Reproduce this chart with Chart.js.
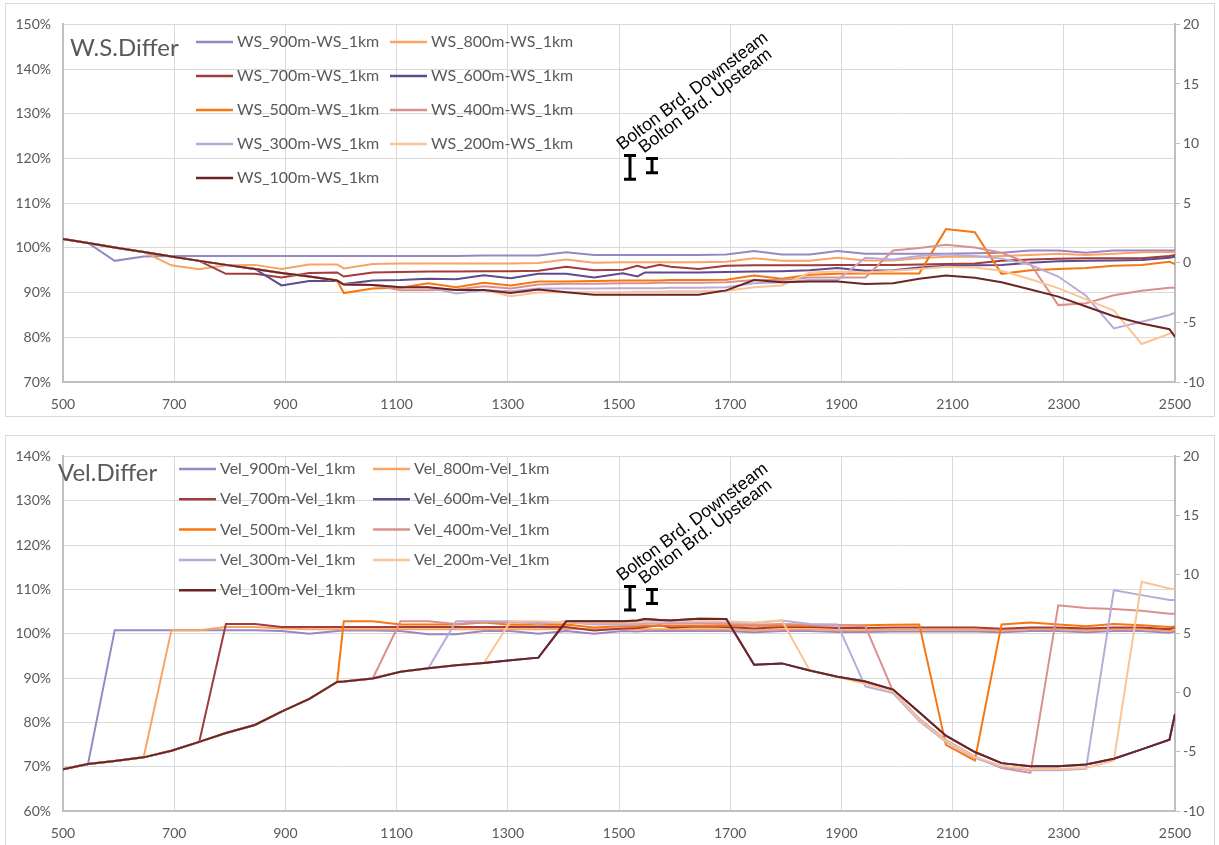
<!DOCTYPE html>
<html>
<head>
<meta charset="utf-8">
<script src="https://cdn.jsdelivr.net/npm/chart.js@4.4.1/dist/chart.umd.min.js"></script>
<style>
  html, body { margin: 0; padding: 0; background: #fff; overflow: hidden; }
  .panel { position: absolute; left: 5px; width: 1210px; height: 414px; border: 1px solid #D9D9D9; box-sizing: border-box; }
  #wsBox { top: 3px; }
  #velBox { top: 435px; }
  canvas { display: block; }
</style>
</head>
<body>
<div class="panel" id="wsBox"><canvas id="wsChart" width="1208" height="412"></canvas></div>
<div class="panel" id="velBox"><canvas id="velChart" width="1208" height="412"></canvas></div>
<script>
// stations along the reach (shared x values of every series)
const stations = [500, 545, 593, 645, 695, 745, 793, 845, 893, 943, 993, 1005, 1057, 1107, 1157, 1207, 1257, 1305, 1355, 1405,
  1455, 1507, 1533, 1547, 1573, 1593, 1643, 1693, 1743, 1793, 1843, 1893, 1943, 1993, 2040, 2088, 2140, 2188, 2240, 2290,
  2340, 2390, 2440, 2490, 2500];

const runs = ['900m', '800m', '700m', '600m', '500m', '400m', '300m', '200m', '100m'];
const runColors = ['#9B86C4', '#F9A464', '#A23B3B', '#5E4A8C', '#F7760F', '#D9918E', '#B9ABD8', '#FBC496', '#6B2525'];

// water surface difference (%)
const ws900 = [102.0, 101.1, 97.1, 98.1, 98.2, 98.2, 98.2, 98.2, 98.2, 98.2, 98.2, 98.2, 98.2, 98.2, 98.2, 98.2, 98.3, 98.3, 98.3, 99.0,
  98.4, 98.4, 98.4, 98.4, 98.4, 98.4, 98.4, 98.5, 99.3, 98.5, 98.5, 99.3, 98.7, 98.7, 98.7, 98.7, 98.8, 98.9, 99.4, 99.4,
  98.9, 99.4, 99.4, 99.4, 99.4];
const ws800 = [102.0, 101.1, 100.1, 99.1, 96.1, 95.2, 96.1, 96.2, 95.3, 96.3, 96.3, 95.4, 96.4, 96.5, 96.5, 96.5, 96.5, 96.5, 96.6, 97.4,
  96.7, 96.8, 96.8, 96.8, 96.8, 96.8, 96.8, 96.9, 97.7, 97.1, 97.1, 97.8, 97.2, 97.2, 97.7, 98.0, 98.0, 98.2, 98.4, 98.7,
  98.4, 98.7, 99.0, 99.1, 99.1];
const ws700 = [102.0, 101.1, 100.1, 99.1, 98.1, 97.1, 94.2, 94.2, 93.4, 94.4, 94.5, 93.6, 94.5, 94.6, 94.7, 94.7, 94.8, 94.8, 94.9, 95.8,
  95.0, 95.1, 96.0, 95.5, 96.2, 95.8, 95.3, 96.0, 96.1, 96.1, 96.1, 96.2, 96.2, 96.2, 96.3, 96.4, 96.5, 97.1, 97.4, 97.6,
  97.7, 97.7, 97.7, 98.2, 98.4];
const ws600 = [102.0, 101.1, 100.1, 99.1, 98.1, 97.1, 96.2, 95.3, 91.6, 92.6, 92.6, 91.9, 92.7, 92.8, 93.1, 93.0, 93.9, 93.2, 94.2, 94.2,
  93.4, 94.3, 93.6, 94.5, 94.5, 94.5, 94.5, 94.6, 94.7, 94.8, 95.0, 95.5, 94.9, 95.0, 95.6, 96.0, 96.1, 96.2, 96.7, 97.0,
  97.1, 97.2, 97.3, 97.8, 98.0];
const ws500 = [102.0, 101.1, 100.1, 99.1, 98.1, 97.1, 96.2, 95.3, 94.4, 93.6, 92.7, 89.9, 90.9, 91.1, 92.1, 91.2, 92.2, 91.6, 92.5, 92.5,
  92.6, 92.7, 92.7, 92.7, 92.7, 92.8, 92.8, 92.9, 93.8, 93.1, 94.0, 94.2, 94.3, 94.3, 94.3, 104.2, 103.5, 94.2, 95.0, 95.3,
  95.5, 96.0, 96.2, 96.9, 96.4];
const ws400 = [102.0, 101.1, 100.1, 99.1, 98.1, 97.1, 96.2, 95.3, 94.4, 93.6, 92.7, 91.8, 91.7, 90.5, 90.5, 90.7, 91.4, 90.9, 91.8, 92.0,
  92.0, 92.1, 92.1, 92.1, 92.2, 92.2, 92.2, 92.3, 92.8, 92.8, 93.4, 93.4, 93.4, 99.4, 100.0, 100.7, 100.1, 98.9, 96.4, 87.2,
  87.6, 89.4, 90.4, 91.1, 91.1];
const ws300 = [102.0, 101.1, 100.1, 99.1, 98.1, 97.1, 96.2, 95.3, 94.4, 93.6, 92.7, 91.8, 91.7, 91.2, 91.2, 89.8, 90.5, 90.3, 90.9, 90.9,
  90.9, 91.0, 91.0, 91.0, 91.0, 91.1, 91.1, 91.2, 92.1, 92.3, 92.8, 92.8, 97.8, 97.4, 98.2, 98.5, 98.2, 97.6, 96.2, 93.6,
  89.3, 82.0, 83.5, 85.0, 85.5];
const ws200 = [102.0, 101.1, 100.1, 99.1, 98.1, 97.1, 96.2, 95.3, 94.4, 93.6, 92.7, 91.8, 91.7, 91.2, 91.2, 90.6, 90.6, 89.2, 90.0, 90.1,
  90.1, 90.1, 90.2, 90.2, 90.2, 90.3, 90.3, 90.4, 91.2, 91.6, 94.5, 94.7, 94.5, 94.9, 95.3, 95.8, 95.6, 94.9, 93.0, 91.0,
  88.5, 86.0, 78.5, 80.8, 81.2];
const ws100 = [102.0, 101.1, 100.1, 99.1, 98.1, 97.1, 96.2, 95.3, 94.4, 93.6, 92.7, 91.8, 91.7, 91.2, 91.2, 90.6, 90.6, 89.9, 90.7, 90.1,
  89.5, 89.5, 89.5, 89.5, 89.5, 89.5, 89.5, 90.5, 92.8, 92.3, 92.5, 92.5, 91.9, 92.1, 93.1, 93.8, 93.3, 92.3, 90.7, 89.1,
  86.9, 84.7, 83.1, 81.8, 80.1];

// velocity difference (%)
const vel900 = [69.4, 70.6, 100.8, 100.8, 100.8, 100.8, 100.8, 100.8, 100.6, 100.0, 100.6, 100.7, 100.7, 100.6, 99.9, 99.9, 100.6, 100.6, 100.0, 100.6,
  100.0, 100.6, 100.5, 100.6, 100.6, 100.6, 100.6, 100.6, 100.3, 100.6, 100.6, 100.4, 100.4, 100.5, 100.5, 100.5, 100.5, 100.3, 100.6, 100.6,
  100.3, 100.6, 100.6, 100.2, 100.5];
const vel800 = [69.4, 70.6, 71.3, 72.1, 100.8, 100.8, 101.5, 101.5, 101.2, 101.0, 101.0, 101.0, 101.0, 101.0, 101.0, 101.0, 101.0, 101.0, 101.0, 101.1,
  101.0, 101.0, 101.0, 101.0, 101.0, 101.0, 101.0, 101.0, 100.7, 101.0, 101.0, 100.8, 100.8, 100.9, 100.9, 100.9, 100.9, 100.7, 101.0, 101.0,
  100.7, 101.0, 101.0, 100.6, 100.9];
const vel700 = [69.4, 70.6, 71.3, 72.1, 73.6, 75.6, 102.2, 102.2, 101.5, 101.5, 101.5, 101.5, 101.5, 101.5, 101.5, 101.5, 101.5, 101.5, 101.5, 101.5,
  100.7, 101.2, 101.3, 101.5, 101.9, 101.4, 101.6, 101.5, 101.2, 101.5, 101.5, 101.3, 101.3, 101.4, 101.4, 101.4, 101.4, 101.1, 101.4, 101.4,
  101.2, 101.4, 101.4, 101.0, 101.5];
const vel600 = [69.4, 70.6, 71.3, 72.1, 73.6, 75.6, 77.6, 79.4, 82.4, 85.3, 89.1, 89.2, 89.9, 91.4, 92.2, 92.9, 93.4, 94.0, 94.6, 102.8,
  102.8, 102.8, 103.0, 103.3, 103.1, 103.0, 103.4, 103.3, 93.0, 93.3, 91.7, 90.3, 89.2, 87.4, 82.3, 77.0, 73.3, 70.8, 70.1, 70.1,
  70.5, 71.8, 73.9, 76.1, 81.9];
const vel500 = [69.4, 70.6, 71.3, 72.1, 73.6, 75.6, 77.6, 79.4, 82.4, 85.3, 89.1, 102.8, 102.8, 102.1, 102.1, 102.1, 102.5, 102.0, 102.0, 102.1,
  101.4, 101.7, 101.7, 101.8, 101.8, 101.8, 101.8, 101.8, 101.8, 101.8, 101.8, 101.9, 101.9, 102.0, 102.1, 74.9, 71.4, 102.1, 102.5, 102.1,
  101.7, 102.2, 101.9, 101.5, 101.6];
const vel400 = [69.4, 70.6, 71.3, 72.1, 73.6, 75.6, 77.6, 79.4, 82.4, 85.3, 89.1, 89.2, 89.9, 102.8, 102.8, 102.2, 102.7, 102.5, 102.5, 102.5,
  102.2, 102.2, 102.2, 102.3, 102.3, 102.3, 102.3, 102.2, 102.0, 102.2, 102.0, 101.9, 101.7, 87.0, 80.8, 76.0, 72.3, 69.7, 68.6, 106.4,
  105.8, 105.6, 105.2, 104.5, 104.5];
const vel300 = [69.4, 70.6, 71.3, 72.1, 73.6, 75.6, 77.6, 79.4, 82.4, 85.3, 89.1, 89.2, 89.9, 91.4, 92.2, 102.8, 102.8, 102.8, 102.2, 102.8,
  102.1, 102.1, 102.2, 102.3, 102.4, 102.5, 102.6, 102.6, 102.4, 103.0, 102.2, 102.1, 88.1, 86.6, 80.3, 75.6, 72.0, 69.9, 69.2, 69.2,
  69.5, 109.8, 108.7, 107.6, 107.6];
const vel200 = [69.4, 70.6, 71.3, 72.1, 73.6, 75.6, 77.6, 79.4, 82.4, 85.3, 89.1, 89.2, 89.9, 91.4, 92.2, 92.9, 93.4, 102.8, 102.8, 102.6,
  102.5, 102.5, 102.6, 102.7, 102.7, 102.8, 102.8, 102.8, 102.5, 103.0, 91.7, 90.2, 88.7, 87.0, 80.6, 75.8, 72.2, 70.2, 69.5, 69.5,
  69.7, 71.4, 111.7, 110.2, 110.0];
const vel100 = [69.4, 70.6, 71.3, 72.1, 73.6, 75.6, 77.6, 79.4, 82.4, 85.3, 89.1, 89.2, 89.9, 91.4, 92.2, 92.9, 93.4, 94.0, 94.6, 102.8,
  102.8, 102.8, 103.0, 103.3, 103.1, 103.0, 103.4, 103.3, 93.0, 93.3, 91.7, 90.3, 89.2, 87.4, 82.3, 77.0, 73.3, 70.8, 70.1, 70.1,
  70.5, 71.8, 73.9, 76.1, 81.9];

// bridge markers on the right axis
const bridgeX = [1520, 1560];
const bridgeY = [8.0, 8.15];
const bridgeErr = [1.0, 0.6];
const bridgeLabels = ['Bolton Brd. Downsteam', 'Bolton Brd. Upsteam'];

Chart.defaults.font.family = 'Lato, "Noto Sans", sans-serif';
Chart.defaults.color = '#595959';

const gridColor = '#D9D9D9';
const axisColor = '#BFBFBF';

function lineSets(prefix, arrays) {
  const sets = arrays.map((vals, i) => ({
    label: prefix + '_' + runs[i] + '-' + prefix + '_1km',
    data: stations.map((x, k) => ({ x: x, y: vals[k] })),
    borderColor: runColors[i],
    backgroundColor: runColors[i],
    borderWidth: 2,
    pointRadius: 0,
    tension: 0,
    yAxisID: 'y',
    order: runs.length - i
  }));
  sets.push({
    label: 'bridge',
    isBridge: true,
    data: bridgeX.map((x, i) => ({ x: x, y: bridgeY[i] })),
    yAxisID: 'y2',
    showLine: false,
    pointRadius: 0,
    order: 0
  });
  return sets;
}

// I shaped error bars + rotated labels for the bridges
const bridgePlugin = {
  id: 'bridgeBars',
  afterDatasetsDraw(chart) {
    const ctx = chart.ctx;
    const xs = chart.scales.x, ys = chart.scales.y2;
    ctx.save();
    ctx.strokeStyle = '#000';
    ctx.fillStyle = '#000';
    ctx.lineWidth = 3;
    ctx.font = '17.5px "Liberation Sans", Arial, sans-serif';
    ctx.textBaseline = 'alphabetic';
    bridgeX.forEach((bx, i) => {
      const px = Math.round(xs.getPixelForValue(bx));
      const top = ys.getPixelForValue(bridgeY[i] + bridgeErr[i]);
      const bot = ys.getPixelForValue(bridgeY[i] - bridgeErr[i]);
      ctx.beginPath();
      ctx.moveTo(px, top); ctx.lineTo(px, bot);
      ctx.moveTo(px - 6, top); ctx.lineTo(px + 6, top);
      ctx.moveTo(px - 6, bot); ctx.lineTo(px + 6, bot);
      ctx.stroke();
      ctx.save();
      ctx.translate(px - 8, top - 5);
      ctx.rotate(-37 * Math.PI / 180);
      ctx.fillText(bridgeLabels[i], 0, 0);
      ctx.restore();
    });
    ctx.restore();
  }
};

// title + two column legend drawn inside the plot
const panelLegend = {
  id: 'panelLegend',
  afterDraw(chart, args, opts) {
    const ctx = chart.ctx;
    ctx.save();
    ctx.fillStyle = '#595959';
    ctx.font = opts.titleSize + 'px Lato, sans-serif';
    ctx.textBaseline = 'middle';
    ctx.fillText(opts.title, opts.titleX, opts.titleY);
    ctx.font = opts.fontSize + 'px Lato, sans-serif';
    chart.data.datasets.filter(d => !d.isBridge).forEach((ds, k) => {
      const x0 = opts.colX[k % 2];
      const y = opts.rowY + Math.floor(k / 2) * opts.rowGap;
      ctx.strokeStyle = ds.borderColor;
      ctx.lineWidth = 2.5;
      ctx.beginPath();
      ctx.moveTo(x0, y); ctx.lineTo(x0 + opts.lineLen, y);
      ctx.stroke();
      ctx.fillText(ds.label, x0 + opts.lineLen + 4, y);
    });
    ctx.restore();
  }
};

function makeChart(id, prefix, arrays, yMin, yMax, xHeight, legendOpts) {
  return new Chart(document.getElementById(id), {
    type: 'line',
    data: { datasets: lineSets(prefix, arrays) },
    plugins: [bridgePlugin, panelLegend],
    options: {
      responsive: false,
      animation: false,
      devicePixelRatio: 1,
      layout: { padding: { top: 12, left: 0, right: 0, bottom: 0 }, autoPadding: false },
      plugins: {
        legend: { display: false },
        tooltip: { enabled: false },
        panelLegend: legendOpts
      },
      scales: {
        x: {
          type: 'linear', min: 500, max: 2500,
          ticks: { stepSize: 200, padding: 14, font: { size: 14 }, maxRotation: 0, callback: v => String(v) },
          grid: { color: gridColor, drawTicks: false },
          border: { color: axisColor, width: 2 },
          afterFit(s) { s.height = xHeight; }
        },
        y: {
          position: 'left', min: yMin, max: yMax,
          ticks: { stepSize: 10, padding: 12, font: { size: 14 }, callback: v => v + '%' },
          grid: { color: gridColor, drawTicks: false },
          border: { color: axisColor, width: 2 },
          afterFit(s) { s.width = 57; }
        },
        y2: {
          position: 'right', min: -10, max: 20,
          ticks: { stepSize: 5, padding: 3, font: { size: 14 } },
          grid: { drawOnChartArea: false, tickLength: 5, color: axisColor },
          border: { color: axisColor, width: 2 },
          afterFit(s) { s.width = 39; }
        }
      }
    }
  });
}

makeChart('wsChart', 'WS', [ws900, ws800, ws700, ws600, ws500, ws400, ws300, ws200, ws100], 70, 150, 34, {
  title: 'W.S.Differ', titleSize: 24, titleX: 64, titleY: 44,
  fontSize: 16, colX: [190, 384], rowY: 38, rowGap: 34, lineLen: 37
});

makeChart('velChart', 'Vel', [vel900, vel800, vel700, vel600, vel500, vel400, vel300, vel200, vel100], 60, 140, 37, {
  title: 'Vel.Differ', titleSize: 24, titleX: 52, titleY: 37,
  fontSize: 16, colX: [173, 367], rowY: 33, rowGap: 30.3, lineLen: 37
});
</script>
</body>
</html>
